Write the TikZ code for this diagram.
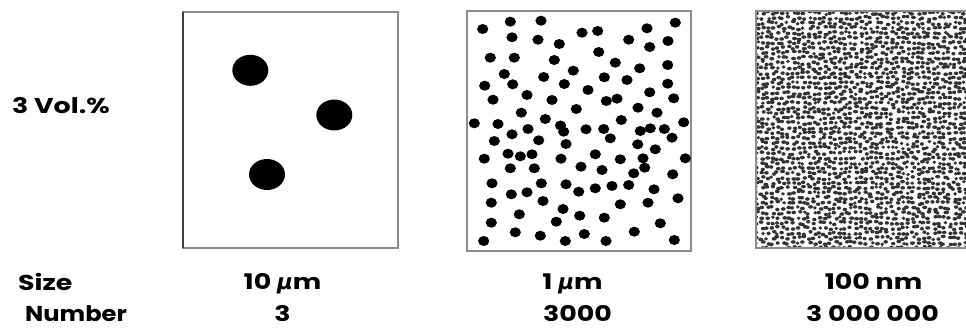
\documentclass[tikz,border=0pt]{standalone}
\usepackage{fontspec}
\newfontfamily\lblfont{Poppins}[FakeStretch=1.25]
\newfontfamily\mufont{DejaVu Sans}
\newcommand{\mumark}{{\mufont\bfseries\itshape μ}}
\begin{document}
\begin{tikzpicture}[x=1pt,y=-1pt,
  frameline/.style={draw=black!45,line width=1.6pt},
  bigdot/.style={fill=black},
  lbl/.style={font=\lblfont\bfseries\fontsize{21.5}{24}\selectfont,inner sep=0pt,anchor=base},
  lblw/.style={lbl,anchor=base west}]
\useasboundingbox[fill=white] (0,0) rectangle (966,328);
% panel 1
\draw[frameline] (183,12) rectangle (398,248);
\draw[black!75,line width=2.2pt] (183,12) -- (183,248);
\foreach \x/\y in {250.3/70.3, 334.3/115, 267/174.5}
  \fill[bigdot] (\x,\y) ellipse [x radius=18, y radius=15.5];
% panel 2
\draw[frameline] (467,11) rectangle (691,251);
\foreach \x/\y in {482.7/29, 510.3/21.7, 541/20.7, 512/37.3, 538/39.7, 559.3/44, 582/32.7, 597.7/31,
  647/28.3, 675.3/22.7, 628.7/39.7, 649.7/47, 668/41, 490.3/57.7, 514.3/57.7, 554.3/60, 598.7/52,
  615.3/62.7, 639.7/68.3, 667.7/65, 504.3/74, 543.7/77, 573.3/70.7, 604.3/77.3, 627/80, 484.7/85.7,
  512.7/84.3, 564.3/84, 588/90, 667.7/83.7, 493/99.7, 527/95, 552/100, 606.3/101, 617/98.7,
  649.7/92.3, 673.7/98.3, 521.3/112.7, 576.3/109, 638/107.7, 657/112.7, 474.3/123.3, 498/124,
  545.3/119, 560.5/125.5, 621.3/120, 683.7/122.3,
  512/134.3, 528/129, 563.7/131.7, 586/129.3, 603.7/129, 640.3/131, 650.3/128.3, 664.3/129,
  494.3/141, 538.7/140.3, 566/144, 610.3/138.3, 637.7/144.3, 672/137.7, 655.3/149.3,
  484.3/158.7, 508/153.7, 520.3/156.3, 532/154.3, 561/158.7, 595.3/154.3, 620.3/159.3, 643/158.3,
  685.3/158.3, 510.3/168.3, 534.3/168.3, 581/166.7, 602/170, 633.7/173.3, 644.7/167.7, 672.7/174.3,
  492/183.3, 541.3/183.3, 566/184.3, 595.3/188.3, 612/186, 628.7/185, 511.3/194.3, 527/192.3,
  578.7/191.7, 654/189.3, 491.3/202.7, 543/201, 563/209, 620.3/204.3, 648/202.7, 678/198.3,
  519.3/214.3, 579.7/215.7, 604.3/217.7, 491.3/222.7, 556.3/221.7, 660.3/223.3, 515.3/232.3,
  540.3/235.7, 584.3/234, 634.3/231.7, 483.7/241, 565.3/241, 606/241, 674.3/240}
  \fill[bigdot] (\x,\y) ellipse [x radius=5.6, y radius=5];
% panel 3
\begin{scope}
\clip (756,11) rectangle (966,248);
\pgfmathsetseed{7}
\foreach \i in {0,...,40}{
  \foreach \j in {0,...,47}{
    \pgfmathsetmacro{\px}{757+\i*5.2+1.8*rand}
    \pgfmathsetmacro{\py}{13+\j*5.0+1.6*rand}
    \pgfmathsetmacro{\rx}{1.9+0.7*rnd}
    \fill[black!80] (\px,\py) ellipse [x radius=\rx, y radius=1.8];
  }
}
\end{scope}
\draw[frameline] (966,11) -- (756,11) -- (756,248) -- (966,248);
% labels
\node[lblw] (vol) at (12,114) {3 Vol.\%};
\node[lblw] (size) at (18,291) {Size};
\node[lblw] (number) at (25,322) {\scalebox{0.9}[1]{Number}};
\node[lbl] (s1) at (282.5,290) {10 \mumark m};
\node[lbl] (n1) at (282.5,322) {3};
\node[lbl] (s2) at (572.5,290) {1 \mumark m};
\node[lbl] (n2) at (577.5,322) {3000};
\node[lbl] (s3) at (873.5,290) {100 nm};
\node[lbl] (n3) at (872.5,322) {3 000 000};
\end{tikzpicture}
\end{document}
